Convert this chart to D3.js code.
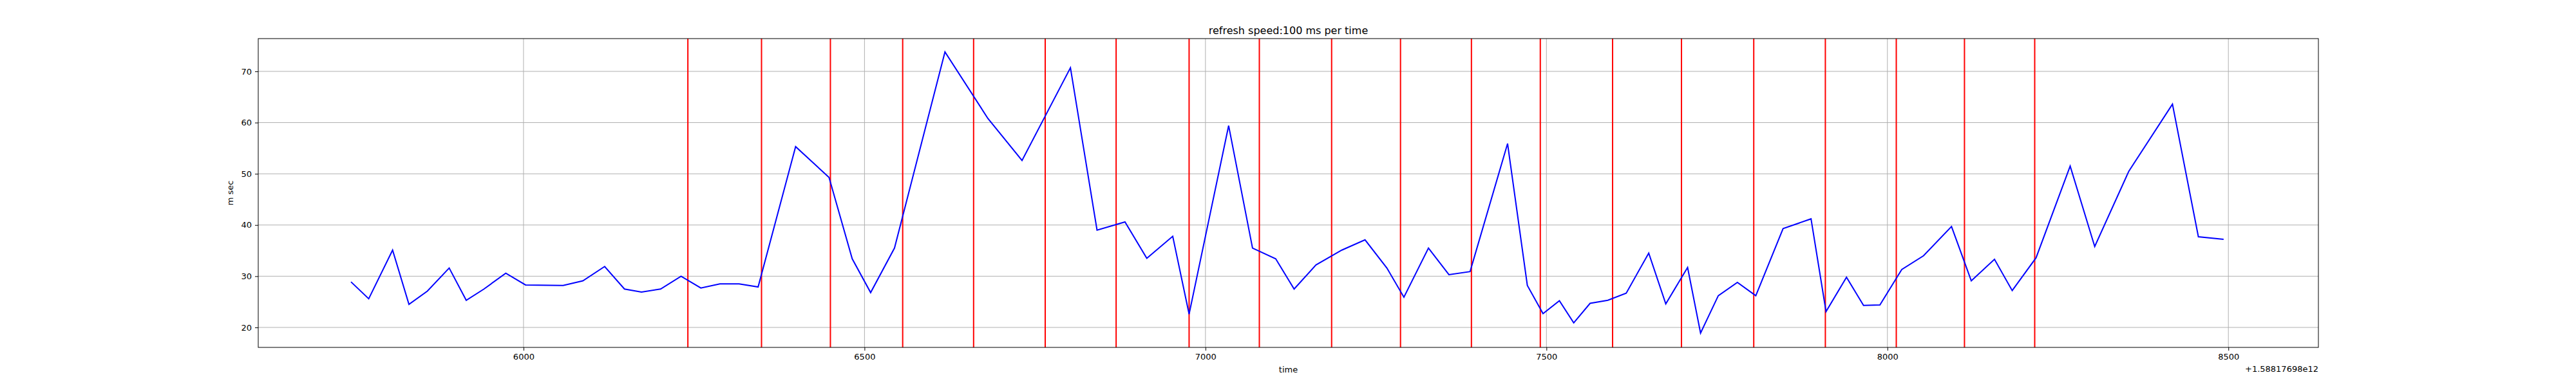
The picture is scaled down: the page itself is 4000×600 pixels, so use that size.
<!DOCTYPE html>
<html>
<head>
<meta charset="utf-8">
<script src="https://cdn.jsdelivr.net/npm/d3@7"></script>
<style>
  body { margin: 0; background: #fff; }
  text { font-family: "DejaVu Sans", sans-serif; }
</style>
</head>
<body>
<svg id="chart" width="4000" height="600"></svg>
<script>
// time offset from 1.58817698e12 (ms) and measured refresh time (m sec)
var times = [5747,5773,5808,5832,5859,5891,5916,5942,5974,6003,6058,6087,6119,6148,6173,6201,6231,6260,6288,6316,6344,
  6399,6448,6482,6509,6544,6618,6681,6731,6802,6841,6882,6914,6952,6976,7034,7069,7103,7130,7162,7200,7234,7266,7291,
  7327,7357,7388,7443,7472,7495,7519,7540,7564,7590,7617,7650,7675,7707,7726,7752,7780,7807,7847,7888,7910,7940,7965,
  7989,8021,8053,8094,8123,8157,8183,8218,8268,8304,8354,8418,8456,8493];
var values = [28.9,25.6,35.1,24.5,27.1,31.6,25.3,27.5,30.6,28.3,28.2,29.1,31.9,27.5,26.9,27.5,30.0,27.7,28.5,28.5,27.9,
  55.3,49.3,33.4,26.8,35.5,73.8,60.8,52.6,70.7,39.0,40.6,33.5,37.8,22.6,59.4,35.5,33.4,27.5,32.2,35.1,37.1,31.6,25.9,
  35.5,30.3,30.9,55.9,28.2,22.7,25.2,20.9,24.7,25.3,26.7,34.5,24.6,31.7,18.9,26.2,28.8,26.2,39.3,41.2,23.1,29.8,24.3,
  24.4,31.3,34.0,39.7,29.1,33.3,27.2,33.6,51.5,35.8,50.5,63.6,37.7,37.2];
var markers = [6241,6349,6450,6556,6660,6765,6869,6976,7079,7185,7286,7390,7491,7597,7698,7804,7909,8013,8113,8216];
var xTicks = [6000,6500,7000,7500,8000,8500];
var yTicks = [20,30,40,50,60,70];

var pLeft = 401, pRight = 3600, pTop = 60, pBottom = 540;
var svg = d3.select('#chart');

var x = d3.scaleLinear().domain([5611, 8632]).range([pLeft, pRight]);
var y = d3.scaleLinear().domain([16.1, 76.4]).range([pBottom, pTop]);

// grid
svg.append('g').selectAll('line').data(xTicks).enter().append('line')
  .attr('x1', function(d) { return x(d); }).attr('x2', function(d) { return x(d); })
  .attr('y1', pTop).attr('y2', pBottom)
  .attr('stroke', '#b0b0b0').attr('stroke-width', 1);
svg.append('g').selectAll('line').data(yTicks).enter().append('line')
  .attr('x1', pLeft).attr('x2', pRight)
  .attr('y1', function(d) { return y(d); }).attr('y2', function(d) { return y(d); })
  .attr('stroke', '#b0b0b0').attr('stroke-width', 1);

// red markers
svg.append('g').selectAll('line').data(markers).enter().append('line')
  .attr('x1', function(d) { return x(d); }).attr('x2', function(d) { return x(d); })
  .attr('y1', pTop).attr('y2', pBottom)
  .attr('stroke', 'red').attr('stroke-width', 2);

// data line
var line = d3.line().x(function(d, i) { return x(times[i]); }).y(function(d) { return y(d); });
svg.append('path').datum(values)
  .attr('d', line).attr('fill', 'none').attr('stroke', 'blue').attr('stroke-width', 2);

// axes
var xAxis = svg.append('g').attr('transform', 'translate(0,' + pBottom + ')')
  .call(d3.axisBottom(x).tickValues(xTicks).tickSize(5).tickPadding(5).tickFormat(d3.format('d')));
var yAxis = svg.append('g').attr('transform', 'translate(' + pLeft + ',0)')
  .call(d3.axisLeft(y).tickValues(yTicks).tickSize(5).tickPadding(5));
[xAxis, yAxis].forEach(function(a) {
  a.select('.domain').remove();
  a.selectAll('text').attr('font-size', 13).attr('fill', '#000').attr('font-family', 'DejaVu Sans');
  a.selectAll('line').attr('stroke', '#000');
});

svg.append('rect').attr('x', pLeft).attr('y', pTop).attr('width', pRight - pLeft).attr('height', pBottom - pTop)
  .attr('fill', 'none').attr('stroke', '#000').attr('stroke-width', 1);

svg.append('text').attr('x', (pLeft + pRight) / 2).attr('y', pTop - 7).attr('text-anchor', 'middle')
  .attr('font-size', 16).text('refresh speed:100 ms per time');
svg.append('text').attr('x', (pLeft + pRight) / 2).attr('y', 579).attr('text-anchor', 'middle')
  .attr('font-size', 13).text('time');
svg.append('text').attr('x', pRight).attr('y', 578).attr('text-anchor', 'end')
  .attr('font-size', 13).text('+1.58817698e12');
svg.append('text').attr('transform', 'translate(362,' + ((pTop + pBottom) / 2) + ') rotate(-90)')
  .attr('text-anchor', 'middle').attr('font-size', 13).text('m sec');
</script>
</body>
</html>
